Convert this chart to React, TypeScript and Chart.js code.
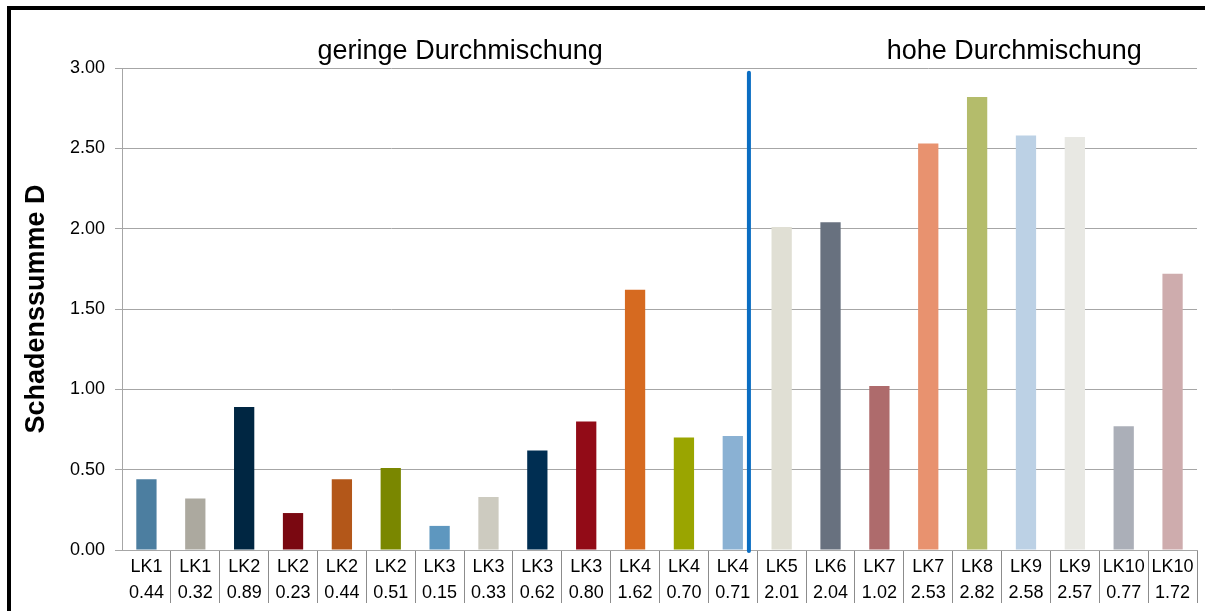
import React, { useEffect, useRef } from 'react';
import { Chart, registerables } from 'chart.js';

Chart.register(...registerables);

const categories = ['LK1', 'LK1', 'LK2', 'LK2', 'LK2', 'LK2', 'LK3', 'LK3', 'LK3', 'LK3', 'LK4', 'LK4', 'LK4', 'LK5', 'LK6', 'LK7', 'LK7', 'LK8', 'LK9', 'LK9', 'LK10', 'LK10'];
const values = [0.44, 0.32, 0.89, 0.23, 0.44, 0.51, 0.15, 0.33, 0.62, 0.80, 1.62, 0.70, 0.71, 2.01, 2.04, 1.02, 2.53, 2.82, 2.58, 2.57, 0.77, 1.72];
const barColors = [
  '#4C7EA0', '#ACA99F', '#002642', '#7A0811', '#B35719', '#7A8700', '#5E97BF', '#CDCBC0',
  '#002E52', '#920B17', '#D66A20', '#9AA500', '#8AB1D3', '#E0DFD4', '#68717F', '#AE6B6C',
  '#E8926F', '#B4BC6B', '#BCD1E5', '#E8E8E3', '#ABAFB8', '#CEACAD',
];
const yMin = 0;
const yMax = 3;
const yStep = 0.5;
const yTitle = 'Schadenssumme D';
const groupLabels = ['geringe Durchmischung', 'hohe Durchmischung'];
const groupLabelPositions = [6.42, 17.76];
const dividerPosition = 12.33;

const FONT = "'Liberation Sans', Arial, Helvetica, sans-serif";
const GRID = '#a6a6a6';

const decorPlugin = {
  id: 'decor',
  afterDraw(chart: any) {
    const { ctx } = chart;
    const x = chart.scales.x;
    const y = chart.scales.y;
    ctx.save();
    // group labels
    ctx.fillStyle = '#000';
    ctx.font = `27px ${FONT}`;
    ctx.textAlign = 'center';
    ctx.textBaseline = 'alphabetic';
    groupLabels.forEach((t, i) => {
      ctx.fillText(t, x.getPixelForValue(groupLabelPositions[i]), y.top - 9);
    });
    // divider
    const dx = x.getPixelForValue(dividerPosition);
    ctx.strokeStyle = '#0A6DC2';
    ctx.lineWidth = 4;
    ctx.lineCap = 'round';
    ctx.beginPath();
    ctx.moveTo(dx, y.getPixelForValue(2.97));
    ctx.lineTo(dx, y.bottom + 1);
    ctx.stroke();
    // outer frame
    ctx.fillStyle = '#000';
    ctx.fillRect(7, 6, chart.width, 4);
    ctx.fillRect(7, 6, 4, chart.height);
    ctx.restore();
  },
};

export default function App() {
  const ref = useRef<HTMLCanvasElement>(null);
  useEffect(() => {
    if (!ref.current) return;
    Chart.defaults.font.family = FONT;
    const chart = new Chart(ref.current, {
      type: 'bar',
      data: {
        labels: categories.map((c, i) => [c, values[i].toFixed(2)]),
        datasets: [
          {
            data: values,
            backgroundColor: barColors,
            borderWidth: 0,
            barPercentage: 0.415,
            categoryPercentage: 1,
          },
        ],
      },
      plugins: [decorPlugin],
      options: {
        responsive: false,
        animation: false,
        layout: { padding: { left: 0, top: 68, right: 8, bottom: 0 } },
        plugins: { legend: { display: false }, tooltip: { enabled: false } },
        scales: {
          x: {
            afterFit: (s: any) => {
              s.height = 61;
            },
            border: { display: true, color: GRID, width: 1 },
            grid: {
              offset: true,
              drawOnChartArea: false,
              drawTicks: true,
              tickLength: 53,
              color: (c: any) => (c.index === 0 || c.index === categories.length ? 'rgba(0,0,0,0)' : '#8c8c8c'),
              lineWidth: 1,
            },
            ticks: {
              autoSkip: false,
              maxRotation: 0,
              minRotation: 0,
              color: '#000',
              padding: -49,
              font: { size: 18, lineHeight: 1.44 },
            },
          },
          y: {
            min: yMin,
            max: yMax,
            afterFit: (s: any) => {
              s.width = 122;
            },
            border: { display: true, color: GRID, width: 1 },
            grid: { color: GRID, lineWidth: 1, drawTicks: true, tickLength: 7 },
            ticks: {
              stepSize: yStep,
              color: '#000',
              padding: 10,
              font: { size: 18 },
              callback: (v: any) => Number(v).toFixed(2),
            },
            title: {
              display: true,
              text: yTitle,
              color: '#000',
              font: { size: 27, weight: 'bold' },
              padding: { top: 20, bottom: 0 },
            },
          },
        },
      },
    });
    return () => chart.destroy();
  }, []);
  return (
    <div style={{ position: 'absolute', left: 0, top: 0, width: 1205, height: 611, background: '#fff' }}>
      <canvas ref={ref} width={1205} height={611} style={{ display: 'block' }} />
    </div>
  );
}
